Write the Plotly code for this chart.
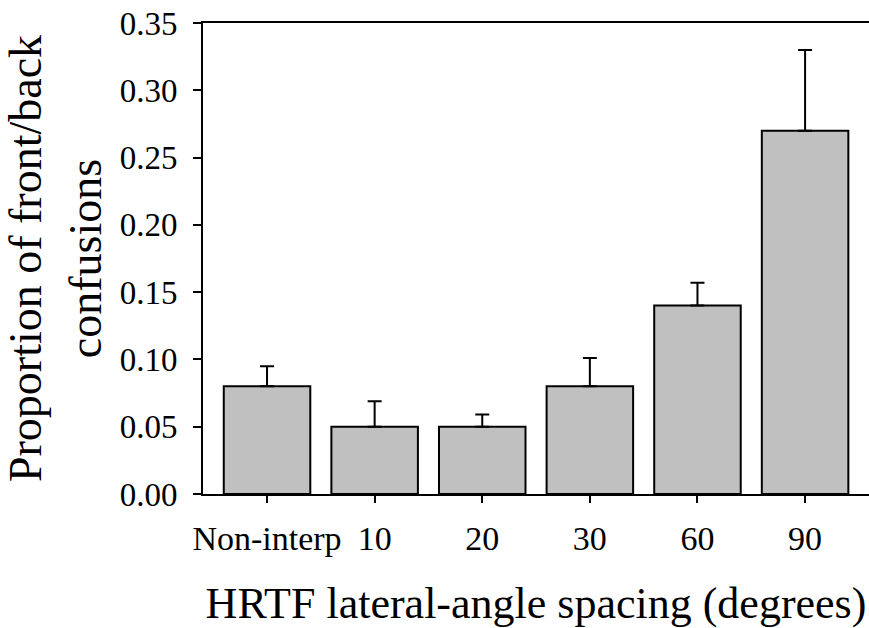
import plotly.graph_objects as go

categories = ["Non-interp", "10", "20", "30", "60", "90"]
proportions = [0.08, 0.05, 0.05, 0.08, 0.14, 0.27]
errors_plus = [0.015, 0.019, 0.009, 0.021, 0.017, 0.060]
y_ticks = [0.00, 0.05, 0.10, 0.15, 0.20, 0.25, 0.30, 0.35]
y_tick_labels = ["0.00", "0.05", "0.10", "0.15", "0.20", "0.25", "0.30", "0.35"]

FONT = "Palatino Linotype, Book Antiqua, Palatino, Liberation Serif, serif"

fig = go.Figure(
    go.Bar(
        x=categories,
        y=proportions,
        marker=dict(color="#c0c0c0", line=dict(color="black", width=2)),
        error_y=dict(type="data", symmetric=False, array=errors_plus,
                     arrayminus=[0] * len(errors_plus),
                     color="black", thickness=2, width=7),
    )
)

fig.update_layout(
    width=869, height=628,
    margin=dict(l=203, r=0, t=23, b=134, autoexpand=False),
    paper_bgcolor="white", plot_bgcolor="white",
    bargap=0.196,
    showlegend=False,
    font=dict(family=FONT, color="black"),
)

fig.update_xaxes(
    type="category",
    range=[-0.595, 5.594],
    showline=True, linecolor="black", linewidth=2, mirror=True,
    ticks="outside", ticklen=7, tickwidth=2, tickcolor="black",
    tickfont=dict(size=34, family=FONT), ticklabelstandoff=6,
    showgrid=False, zeroline=False,
    title=dict(text="HRTF lateral-angle spacing (degrees)",
               font=dict(size=44, family=FONT), standoff=32),
    automargin=False,
)

fig.update_yaxes(
    range=[0, 0.35],
    tickvals=y_ticks, ticktext=y_tick_labels,
    showline=True, linecolor="black", linewidth=2, mirror=True,
    ticks="outside", ticklen=8, tickwidth=2, tickcolor="black",
    tickfont=dict(size=33, family=FONT), ticklabelstandoff=9,
    showgrid=False, zeroline=False,
    title=dict(text="Proportion of front/back<br>confusions",
               font=dict(size=46, family=FONT), standoff=5),
    automargin=False,
)

fig.write_html("out.html")
